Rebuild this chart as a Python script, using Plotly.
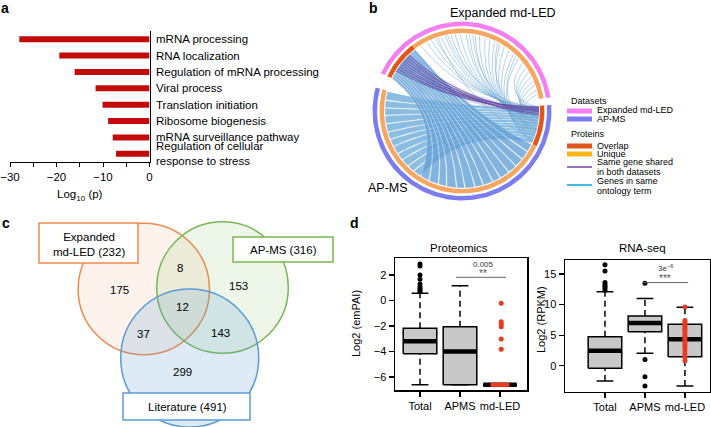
import numpy as np
import plotly.graph_objects as go

W, H = 711, 427
FONT = "Liberation Sans, Arial, sans-serif"


def fx(px):
    return px / W


def fy(py):
    return 1 - py / H


# ---------------- Panel a data ----------------
go_terms = ["mRNA processing", "RNA localization", "Regulation of mRNA processing",
            "Viral process", "Translation initiation", "Ribosome biogenesis",
            "mRNA surveillance pathway", "Regulation of cellular<br>response to stress"]
go_log10p = [-28.0, -19.4, -16.1, -11.6, -10.1, -8.9, -7.9, -7.2]
a_tickvals = [-30, -25, -20, -15, -10, -5, 0]
a_ticktext = ["\u221230", "", "\u221220", "", "\u221210", "", "0"]

# ---------------- Panel b data ----------------
dataset_names = ["Expanded md-LED", "AP-MS"]
dataset_sizes = [232, 316]
overlap_sizes = [44, 46]
# ontology ribbons: md-LED overlap -> AP-MS
fanA_md_lo = [0, 3, 6, 9, 12, 16, 19, 22, 25, 28, 31, 34, 37, 40]
fanA_md_hi = [3, 6, 9, 12, 16, 19, 22, 25, 28, 31, 34, 37, 40, 44]
fanA_ap_lo = [190, 178, 168, 156, 146, 134, 124, 112, 102, 90, 79, 68, 57, 47]
fanA_ap_hi = [200, 189, 177, 167, 155, 145, 133, 123, 111, 101, 89, 78, 67, 56]
# ontology ribbons: AP-MS overlap -> AP-MS
fanB_src_lo = [1, 5, 9, 12, 16, 19, 23, 26, 30, 33, 37, 40]
fanB_src_hi = [5, 9, 12, 16, 19, 23, 26, 30, 33, 37, 40, 45]
fanB_ap_lo = [305, 296, 287, 277, 267, 258, 249, 239, 230, 220, 211, 201]
fanB_ap_hi = [315, 304, 295, 286, 276, 266, 257, 248, 238, 229, 219, 210]
# ontology single links: AP-MS overlap -> md-LED unique
top_ap = [1, 3, 5, 7, 9, 11, 14, 16, 18, 20, 22, 25, 27, 29, 31, 33, 36, 38, 40, 43, 45,
          2, 6, 10, 15, 19, 24, 28, 34, 41, 4, 13, 21, 30]
top_md = [52, 60, 66, 71, 78, 83, 90, 95, 101, 108, 112, 119, 124, 131, 137, 143, 150, 156,
          163, 170, 178, 185, 192, 198, 204, 210, 215, 221, 226, 74, 86, 116, 147, 174]
# same gene shared in both datasets
shared_md = [10, 13, 16, 19, 22, 25, 28, 31, 34]
shared_ap = [2, 5, 1, 7, 3, 9, 4, 11, 6]

# ---------------- Panel c data ----------------
venn_sets = ["Expanded<br>md-LED (232)", "AP-MS (316)", "Literature (491)"]
venn_counts = ["175", "8", "153", "12", "37", "143", "299"]

# ---------------- Panel d data ----------------
box_cats = ["Total", "APMS", "md-LED"]
prot_q1 = [-4.18, -6.6, -6.6]
prot_med = [-3.2, -4.0, -6.6]
prot_q3 = [-2.18, -2.05, -6.6]
prot_lo = [-6.6, -6.6, -6.6]
prot_hi = [0.56, 1.16, -6.6]
prot_out_x = [0, 0, 0, 0, 0, 0, 0, 0, 0]
prot_out_y = [0.7, 0.82, 0.93, 1.08, 1.3, 1.66, 2.0, 2.7, 2.86]
prot_red_x = [2.03, 2.03, 2.03, 2.03, 2.03, 2.03, 1.82, 1.91, 2.0, 2.09, 2.18]
prot_red_y = [-0.22, -1.66, -1.87, -2.05, -3.02, -3.83, -6.6, -6.6, -6.6, -6.6, -6.6]

rna_q1 = [-0.43, 5.57, 1.47]
rna_med = [2.45, 7.0, 4.32]
rna_q3 = [4.75, 8.13, 6.78]
rna_lo = [-2.5, 2.03, -3.3]
rna_hi = [12.1, 11.0, 9.55]
rna_out_x = [0, 0, 0, 0, 0, 0, 0, 1, 1, 1, 1]
rna_out_y = [12.4, 12.7, 13.0, 13.3, 13.6, 15.5, 16.5, 13.5, 1.0, -1.8, -3.3]
rna_red_x = [2] * 19
rna_red_y = [9.6, 7.4, 7.1, 6.8, 6.4, 6.1, 5.8, 5.4, 5.0, 4.7, 4.4, 4.1, 3.7, 3.3,
             2.9, 2.4, 1.9, 1.4, 0.8]

fig = go.Figure()

# ================= Panel a =================
fig.add_trace(go.Bar(x=go_log10p, y=list(range(len(go_terms))), orientation="h",
                     width=0.36, marker=dict(color="#c30b0b", line=dict(width=0)),
                     xaxis="x", yaxis="y", hoverinfo="skip", showlegend=False))

# ================= Panel b (chord) =================
DEG = 0.63
MD_START = 155.0
GAP_R = 5.0
AP_START = MD_START - dataset_sizes[0] * DEG - GAP_R
R_CH = 77.0


def md_ang(i):
    return MD_START - i * DEG


def ap_ang(j):
    return AP_START - j * DEG


def pol(r, a):
    t = np.radians(a)
    return r * np.cos(t), r * np.sin(t)


def arc(r, a0, a1):
    n = max(int(abs(a1 - a0)) + 2, 4)
    ang = np.linspace(a0, a1, n)
    x, y = pol(r, ang)
    return list(x), list(y)


def bez(a, b, n=30):
    x0, y0 = pol(R_CH, a)
    x2, y2 = pol(R_CH, b)
    diff = ((b - a + 180.0) % 360.0) - 180.0
    d = abs(diff)
    f = 0.75 * (1 - d / 180.0) ** 1.6
    cx, cy = pol(R_CH * f, a + diff / 2)
    t = np.linspace(0, 1, n)
    x = (1 - t) ** 2 * x0 + 2 * (1 - t) * t * cx + t ** 2 * x2
    y = (1 - t) ** 2 * y0 + 2 * (1 - t) * t * cy + t ** 2 * y2
    return list(x), list(y)


def ribbon(a1, a2, b1, b2):
    # a1->a2 and b1->b2 are traversed so that the ribbon does not twist
    xs, ys = [], []
    for px_, py_ in (arc(R_CH, a1, a2), bez(a2, b1), arc(R_CH, b1, b2), bez(b2, a1)):
        xs += px_
        ys += py_
    return xs, ys


def annulus(r0, r1, a0, a1):
    xo, yo = arc(r1, a0, a1)
    xi, yi = arc(r0, a1, a0)
    return xo + xi + [xo[0]], yo + yi + [yo[0]]


def add_poly(xs, ys, color, line_color=None, lw=0):
    fig.add_trace(go.Scatter(x=xs, y=ys, mode="lines", fill="toself", fillcolor=color,
                             line=dict(width=lw, color=line_color or color),
                             xaxis="x2", yaxis="y2", hoverinfo="skip", showlegend=False))


for k in range(len(fanB_src_lo)):
    xs, ys = ribbon(ap_ang(fanB_src_lo[k]), ap_ang(fanB_src_hi[k]),
                    ap_ang(fanB_ap_lo[k]), ap_ang(fanB_ap_hi[k]))
    add_poly(xs, ys, "rgba(110,172,218,0.8)", "rgba(255,255,255,0.45)", 0.5)

for k in range(len(fanA_md_lo)):
    xs, ys = ribbon(md_ang(fanA_md_lo[k]), md_ang(fanA_md_hi[k]),
                    ap_ang(fanA_ap_lo[k]), ap_ang(fanA_ap_hi[k]))
    add_poly(xs, ys, "rgba(100,160,215,0.8)", "rgba(255,255,255,0.45)", 0.5)

# shared-gene band (light)
xs, ys = ribbon(md_ang(shared_md[0]), md_ang(shared_md[-1]),
                ap_ang(min(shared_ap)), ap_ang(max(shared_ap)))
add_poly(xs, ys, "rgba(92,96,186,0.25)")

lx, ly = [], []
for s, t in zip(top_ap, top_md):
    bx, by = bez(ap_ang(s), md_ang(t), 40)
    lx += bx + [None]
    ly += by + [None]
fig.add_trace(go.Scatter(x=lx, y=ly, mode="lines",
                         line=dict(width=1, color="rgba(105,165,212,0.5)"),
                         xaxis="x2", yaxis="y2", hoverinfo="skip", showlegend=False))

px_, py_ = [], []
for s, t in zip(shared_md, shared_ap):
    bx, by = bez(md_ang(s), ap_ang(t), 40)
    px_ += bx + [None]
    py_ += by + [None]
fig.add_trace(go.Scatter(x=px_, y=py_, mode="lines",
                         line=dict(width=1.1, color="rgba(100,70,160,0.6)"),
                         xaxis="x2", yaxis="y2", hoverinfo="skip", showlegend=False))

# rings
xs, ys = annulus(85, 89.5, md_ang(0), md_ang(dataset_sizes[0]))
add_poly(xs, ys, "#f47ff0")
xs, ys = annulus(85, 89.5, ap_ang(0), ap_ang(dataset_sizes[1]))
add_poly(xs, ys, "#7b7cf0")
xs, ys = annulus(78, 82.5, md_ang(overlap_sizes[0]), md_ang(dataset_sizes[0]))
add_poly(xs, ys, "#f6a660")
xs, ys = annulus(78, 82.5, ap_ang(overlap_sizes[1]), ap_ang(dataset_sizes[1]))
add_poly(xs, ys, "#f6a660")
xs, ys = annulus(78, 82.5, md_ang(0), md_ang(overlap_sizes[0]))
add_poly(xs, ys, "#e2561c")
xs, ys = annulus(78, 82.5, ap_ang(0), ap_ang(overlap_sizes[1]))
add_poly(xs, ys, "#e2561c")

# ================= Panel d (boxplots) =================


def add_boxes(xa, ya, q1, med, q3, lo, hi, w=0.42):
    wx, wy, cx, cy, rx, ry, mx, my = [], [], [], [], [], [], [], []
    for i in range(len(q1)):
        wx += [i, i, None, i, i, None]
        wy += [q3[i], hi[i], None, lo[i], q1[i], None]
        cx += [i - w / 2, i + w / 2, None, i - w / 2, i + w / 2, None]
        cy += [hi[i], hi[i], None, lo[i], lo[i], None]
        rx += [i - w, i + w, i + w, i - w, i - w, None]
        ry += [q1[i], q1[i], q3[i], q3[i], q1[i], None]
        mx += [i - w, i + w, None]
        my += [med[i], med[i], None]
    common = dict(xaxis=xa, yaxis=ya, hoverinfo="skip", showlegend=False, mode="lines")
    fig.add_trace(go.Scatter(x=wx, y=wy, line=dict(color="black", width=1.5, dash="6px,4px"), **common))
    fig.add_trace(go.Scatter(x=cx, y=cy, line=dict(color="black", width=1.5), **common))
    fig.add_trace(go.Scatter(x=rx, y=ry, fill="toself", fillcolor="#c8c8c8",
                             line=dict(color="black", width=1.5), **common))
    fig.add_trace(go.Scatter(x=mx, y=my, line=dict(color="black", width=4.5), **common))


add_boxes("x3", "y3", prot_q1, prot_med, prot_q3, prot_lo, prot_hi)
fig.add_trace(go.Scatter(x=prot_out_x, y=prot_out_y, mode="markers",
                         marker=dict(color="black", size=5), xaxis="x3", yaxis="y3",
                         hoverinfo="skip", showlegend=False))
fig.add_trace(go.Scatter(x=prot_red_x, y=prot_red_y, mode="markers",
                         marker=dict(color="#ea3a22", size=5), xaxis="x3", yaxis="y3",
                         hoverinfo="skip", showlegend=False))
fig.add_trace(go.Scatter(x=[0.9, 2.15], y=[1.82, 1.82], mode="lines",
                         line=dict(color="#666666", width=1), xaxis="x3", yaxis="y3",
                         hoverinfo="skip", showlegend=False))

add_boxes("x4", "y4", rna_q1, rna_med, rna_q3, rna_lo, rna_hi)
fig.add_trace(go.Scatter(x=rna_out_x, y=rna_out_y, mode="markers",
                         marker=dict(color="black", size=5), xaxis="x4", yaxis="y4",
                         hoverinfo="skip", showlegend=False))
fig.add_trace(go.Scatter(x=rna_red_x, y=rna_red_y, mode="markers",
                         marker=dict(color="#ea3a22", size=5), xaxis="x4", yaxis="y4",
                         hoverinfo="skip", showlegend=False))
fig.add_trace(go.Scatter(x=[0.97, 2.08], y=[13.6, 13.6], mode="lines",
                         line=dict(color="#666666", width=1), xaxis="x4", yaxis="y4",
                         hoverinfo="skip", showlegend=False))

# ================= Layout =================
tickfont = dict(family=FONT, size=11, color="black")
box_ax = dict(showline=True, linecolor="black", linewidth=1.5, mirror=True, ticks="outside",
              ticklen=5, tickwidth=1.2, tickcolor="black", showgrid=False, zeroline=False,
              tickfont=tickfont, fixedrange=True, automargin=False)

layout = dict(
    template="none",
    width=W, height=427, margin=dict(l=0, r=0, t=0, b=0, pad=0), autosize=False,
    paper_bgcolor="white", plot_bgcolor="white", showlegend=False,
    font=dict(family=FONT, color="black"),
    xaxis=dict(domain=[fx(10), fx(149.5)], range=[-30, 0], anchor="y",
               showline=True, linecolor="black", linewidth=1, ticks="outside", ticklen=4,
               tickcolor="black", tickvals=a_tickvals, ticktext=a_ticktext,
               tickfont=dict(family=FONT, size=11.5, color="black"),
               showgrid=False, zeroline=False, fixedrange=True, automargin=False,
               title=dict(text="Log<sub>10</sub> (p)", font=dict(family=FONT, size=11.5),
                          standoff=8)),
    yaxis=dict(domain=[fy(162), fy(31)], range=[7.5, -0.5], anchor="x", side="right",
               showline=True, linecolor="black", linewidth=1, ticks="",
               showticklabels=False, showgrid=False, zeroline=False, fixedrange=True,
               automargin=False),
    xaxis2=dict(domain=[fx(362), fx(562)], range=[-100, 100], anchor="y2", visible=False,
                fixedrange=True, automargin=False),
    yaxis2=dict(domain=[fy(211), fy(11)], range=[-100, 100], anchor="x2", visible=False,
                fixedrange=True, automargin=False),
    xaxis3=dict(domain=[fx(395), fx(527)], range=[-0.625, 2.675], anchor="y3",
                tickvals=[0, 1, 2], ticktext=box_cats, **box_ax),
    yaxis3=dict(domain=[fy(390), fy(258.3)], range=[-7.02, 3.31], anchor="x3",
                tickvals=[-6, -4, -2, 0, 2],
                ticktext=["\u22126", "\u22124", "\u22122", "0", "2"], **box_ax),
    xaxis4=dict(domain=[fx(565), fx(709.5)], range=[-1.0, 2.615], anchor="y4",
                tickvals=[0, 1, 2], ticktext=box_cats, **box_ax),
    yaxis4=dict(domain=[fy(391.7), fy(260)], range=[-4.25, 17.29], anchor="x4",
                tickvals=[0, 5, 10, 15], ticktext=["0", "5", "10", "15"], **box_ax),
)


def ann(text, x, y, size=11, xanchor="center", yanchor="middle", color="black", bold=False,
        **kw):
    if bold:
        text = "<b>" + text + "</b>"
    return dict(text=text, x=fx(x), y=fy(y), xref="paper", yref="paper", showarrow=False,
                xanchor=xanchor, yanchor=yanchor,
                font=dict(family=FONT, size=size, color=color), **kw)


annotations = [
    ann("a", 5, 8, 14, bold=True),
    ann("b", 373, 8, 14, bold=True),
    ann("c", 6, 223, 14, bold=True),
    ann("d", 354, 223, 14, bold=True),
    ann(dataset_names[0], 503, 13, 12.5),
    ann(dataset_names[1], 388, 188, 12.5),
    # legend of panel b
    ann("Datasets", 569, 101, 9, xanchor="left"),
    ann("Expanded md-LED", 595, 110.5, 9, xanchor="left"),
    ann("AP-MS", 595, 119, 9, xanchor="left"),
    ann("Proteins", 569, 134, 9, xanchor="left"),
    ann("Overlap", 595, 145.5, 9, xanchor="left"),
    ann("Unique", 595, 154, 9, xanchor="left"),
    ann("Same gene shared", 595, 162, 9, xanchor="left"),
    ann("in both datasets", 595, 172, 9, xanchor="left"),
    ann("Genes in same", 595, 181, 9, xanchor="left"),
    ann("ontology term", 595, 191, 9, xanchor="left"),
    # panel d titles
    ann("Proteomics", 459, 248, 11.5),
    ann("RNA-seq", 642, 248, 11.5),
    ann("Log2 (emPAI)", 356, 324, 11, textangle=-90),
    ann("Log2 (RPKM)", 541, 320, 11, textangle=-90),
    ann("0.005", 483, 264, 8, color="#333333"),
    ann("**", 483, 273, 10, color="#555555"),
    ann("3e<sup>\u22126</sup>", 665, 268, 8, color="#333333"),
    ann("***", 665, 278, 10, color="#555555"),
]

# GO term labels (panel a), placed at each bar's category on the axis
for i, term in enumerate(go_terms):
    annotations.append(dict(text=term, x=0, y=i, xref="x", yref="y", showarrow=False,
                            xanchor="left", yanchor="middle", xshift=4, align="left",
                            font=dict(family=FONT, size=11.5, color="black")))

# Venn region labels
venn_label_pos = [(119, 290), (180, 268), (238, 286), (182, 307), (143, 334), (220, 333),
                  (182, 372)]
for txt, (vx, vy) in zip(venn_counts, venn_label_pos):
    annotations.append(ann(txt, vx, vy, 11.5))

shapes = []
venn_circles = [((143.8, 289.0, 65.7), "#ef8a4c", "rgba(240,140,70,0.10)"),
                ((222.5, 287.5, 65.8), "#79b753", "rgba(121,183,83,0.13)"),
                ((189.7, 358.0, 69.0), "#5b9bd5", "rgba(91,155,213,0.20)")]
for (cx, cy, r), lc, fc in venn_circles:
    shapes.append(dict(type="circle", xref="paper", yref="paper", x0=fx(cx - r), x1=fx(cx + r),
                       y0=fy(cy + r), y1=fy(cy - r), line=dict(color=lc, width=1.5),
                       fillcolor=fc, layer="above"))
venn_boxes = [((39, 223, 138, 263), "#ef8a4c", (88.5, 244.5)),
              ((233, 237, 333, 262), "#79b753", (283, 250)),
              ((123, 393, 250, 420), "#5b9bd5", (187, 406.5))]
for (bx0, by0, bx1, by1), lc, _ in venn_boxes:
    shapes.append(dict(type="rect", xref="paper", yref="paper", x0=fx(bx0), x1=fx(bx1),
                       y0=fy(by1), y1=fy(by0), line=dict(color=lc, width=1.5),
                       fillcolor="white", layer="above"))
for name, (_, _, (tx, ty)) in zip(venn_sets, venn_boxes):
    annotations.append(ann(name, tx, ty, 11.5))

# legend swatches of panel b
legend_swatches = [(111, "#f77ef2", 5), (119, "#7c7cf2", 5), (146, "#e0561c", 5),
                   (154, "#f8b716", 5), (167, "#8e63b5", 1.8), (185, "#2bb6e3", 1.8)]
for yy, col, lw in legend_swatches:
    shapes.append(dict(type="line", xref="paper", yref="paper", x0=fx(567), x1=fx(592),
                       y0=fy(yy), y1=fy(yy), line=dict(color=col, width=lw)))

layout["annotations"] = annotations
layout["shapes"] = shapes
fig.update_layout(**layout)

fig.write_html("out.html", config={"displayModeBar": False, "staticPlot": True},
               post_script="document.body.style.margin='0px';"
                           "document.body.style.overflow='hidden';")
